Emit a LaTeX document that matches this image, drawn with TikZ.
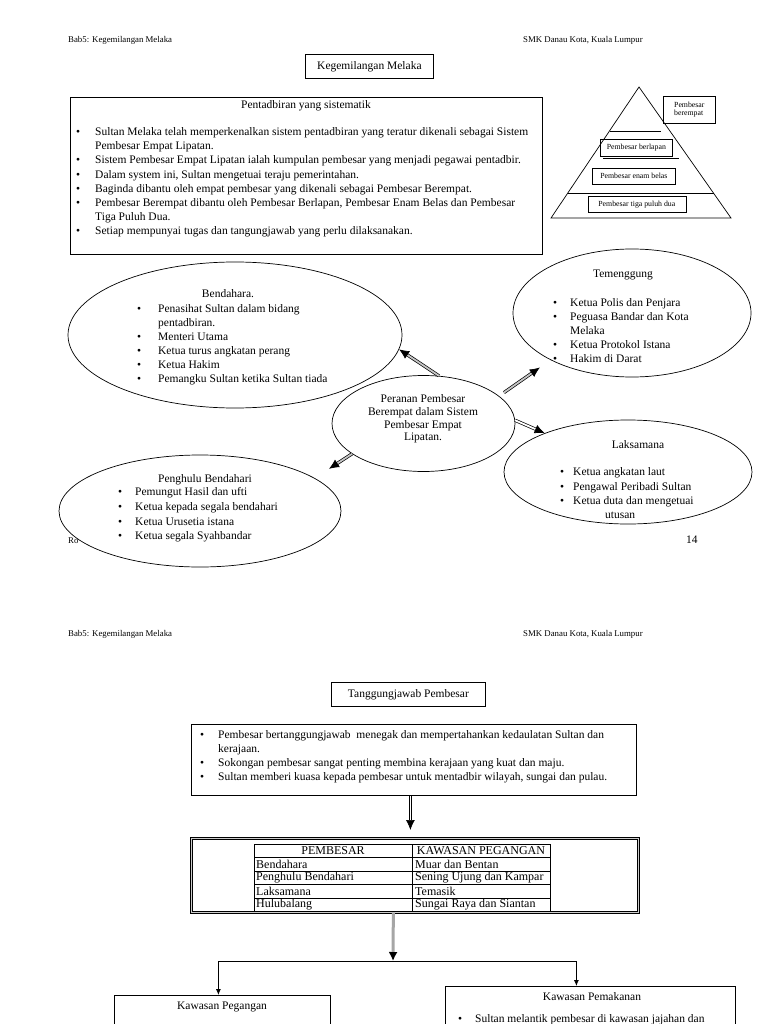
\documentclass[tikz,border=0pt]{standalone}
\usepackage{fontspec}
\setmainfont{Liberation Serif}
\usetikzlibrary{shapes.geometric,arrows.meta,calc}
\newcommand{\mybody}{\fontsize{11.5}{14}\selectfont}
\newcommand{\bul}[1][17pt]{\makebox[#1][l]{\textbullet}}
\newcommand{\indt}[1][17pt]{\hspace*{#1}}
\tikzset{
 hdr/.style={font=\fontsize{8.8}{10}\selectfont, inner sep=0pt, anchor=west},
 sbox/.style={draw, line width=0.8pt, inner sep=0pt, font=\mybody},
 oval/.style={ellipse, draw, line width=0.7pt, fill=white, inner sep=0pt},
 blist/.style={font=\mybody, inner sep=0pt, align=left, anchor=west},
 ctxt/.style={font=\mybody, inner sep=0pt, align=center},
 pyrbox/.style={draw, line width=0.7pt, inner sep=0pt, font=\fontsize{7.8}{8.6}\selectfont, align=left},
 dblarr/.style={double=#1, double distance=1.8pt, line width=0.7pt, -{Latex[length=10pt,width=9pt]}},
 dblarr/.default=white,
 gbar/.style={draw=gray!70, line width=3pt, -{Latex[length=9pt,width=9pt,color=black]}},
 tree/.style={line width=0.8pt, -{Latex[length=6pt,width=5pt]}},
 cell/.style={font=\fontsize{12}{13}\selectfont, inner sep=0pt},
}
\begin{document}
\begin{tikzpicture}[x=1pt,y=-1pt]
\useasboundingbox (0,0) rectangle (768,1024);
\clip (0,0) rectangle (768,1024);
\fill[white] (0,0) rectangle (768,1024);

% ---------- page 1 ----------
\node[hdr] (h1l) at (68,40) {Bab5: Kegemilangan Melaka};
\node[hdr] (h1r) at (523,40) {SMK Danau Kota, Kuala Lumpur};
\node[sbox, minimum width=128pt, minimum height=24pt, anchor=north west] (t1) at (305,54) {Kegemilangan Melaka};

\node[sbox, minimum width=472pt, minimum height=157pt, anchor=north west] (topbox) at (70,97) {};
\node[ctxt] (toptitle) at (306,106) {Pentadbiran yang sistematik};
\node[blist, font=\fontsize{11.5}{14.2}\selectfont] (toplist) at (76,182.5) {%
\bul[19pt]Sultan Melaka telah memperkenalkan sistem pentadbiran yang teratur dikenali sebagai Sistem\\
\indt[19pt]Pembesar Empat Lipatan.\\
\bul[19pt]Sistem Pembesar Empat Lipatan ialah kumpulan pembesar yang menjadi pegawai pentadbir.\\
\bul[19pt]Dalam system ini, Sultan mengetuai teraju pemerintahan.\\
\bul[19pt]Baginda dibantu oleh empat pembesar yang dikenali sebagai Pembesar Berempat.\\
\bul[19pt]Pembesar Berempat dibantu oleh Pembesar Berlapan, Pembesar Enam Belas dan Pembesar\\
\indt[19pt]Tiga Puluh Dua.\\
\bul[19pt]Setiap mempunyai tugas dan tangungjawab yang perlu dilaksanakan.};

% pyramid
\draw[line width=0.7pt] (639,87) -- (551,218) -- (731,218) -- cycle;
\draw[line width=1.6pt] (610,131.6) -- (661,131.6);
\draw[line width=0.7pt] (603,158) -- (679,158);
\draw[line width=0.7pt] (567.6,193) -- (714,193);
\node[pyrbox, minimum width=52pt, minimum height=27pt, anchor=north west] (pb1) at (663,95.7) {Pembesar\\berempat};
\node[pyrbox, minimum width=72pt, minimum height=17.3pt, anchor=north west] (pb2) at (600,138.7) {Pembesar berlapan};
\node[pyrbox, minimum width=83pt, minimum height=16.4pt, anchor=north west] (pb3) at (592,167.6) {Pembesar enam belas};
\node[pyrbox, minimum width=98pt, minimum height=16pt, anchor=north west] (pb4) at (587.5,196) {Pembesar tiga puluh dua};

% footer page 1 (partly hidden)
\node[hdr] (foot1) at (68,541) {Ro};
\node[hdr, font=\mybody] (pnum) at (686,540) {14};

% ellipses
\node[oval, minimum width=334pt, minimum height=146pt] (bend) at (235,335) {};
\node[ctxt] (bendT) at (228,294) {Bendahara.};
\node[blist] (bendL) at (137,344.5) {%
\bul[21pt]Penasihat Sultan dalam bidang\\
\indt[21pt]pentadbiran.\\
\bul[21pt]Menteri Utama\\
\bul[21pt]Ketua turus angkatan perang\\
\bul[21pt]Ketua Hakim\\
\bul[21pt]Pemangku Sultan ketika Sultan tiada};

\node[oval, minimum width=238pt, minimum height=128pt] (tem) at (632,313) {};
\node[ctxt] (temT) at (623,275) {Temenggung};
\node[blist] (temL) at (553,330.5) {%
\bul Ketua Polis dan Penjara\\
\bul Peguasa Bandar dan Kota\\
\indt Melaka\\
\bul Ketua Protokol Istana\\
\bul Hakim di Darat};

\node[oval, minimum width=183pt, minimum height=96pt] (cen) at (423.5,423.5) {};
\node[ctxt, font=\fontsize{11.5}{12.8}\selectfont] (cenT) at (423,419) {Peranan Pembesar\\Berempat dalam Sistem\\Pembesar Empat\\Lipatan.};

\node[oval, minimum width=248pt, minimum height=104pt] (laks) at (628,472) {};
\node[ctxt] (laksT) at (638,445) {Laksamana};
\node[blist, font=\fontsize{11.5}{14.3}\selectfont] (laksL) at (560,493.5) {%
\bul[13pt]Ketua angkatan laut\\
\bul[13pt]Pengawal Peribadi Sultan\\
\bul[13pt]Ketua duta dan mengetuai\\
\indt[45pt]utusan};

\node[oval, minimum width=282pt, minimum height=112pt] (peng) at (200,511) {};
\node[ctxt] (pengT) at (205,480) {Penghulu Bendahari};
\node[blist, font=\fontsize{11.5}{14.6}\selectfont] (pengL) at (118,515) {%
\bul Pemungut Hasil dan ufti\\
\bul Ketua kepada segala bendahari\\
\bul Ketua Urusetia istana\\
\bul Ketua segala Syahbandar};

% arrows from centre
\draw[dblarr=gray!45] (cen.72) -- (bend.-5);
\draw[dblarr=gray!45, shorten <=6pt, shorten >=13pt] (cen.20) -- (tem.210);
\draw[dblarr] (cen.2) -- (laks.155);
\draw[dblarr=gray!45, shorten >=17pt] (cen.203) -- (peng.16);

% ---------- page 2 ----------
\node[hdr] (h2l) at (68,634) {Bab5: Kegemilangan Melaka};
\node[hdr] (h2r) at (523,634) {SMK Danau Kota, Kuala Lumpur};
\node[sbox, minimum width=154pt, minimum height=24pt, anchor=north west] (t2) at (331,682) {Tanggungjawab Pembesar};

\node[sbox, minimum width=445pt, minimum height=71pt, anchor=north west] (box2) at (191,724) {};
\node[blist] (box2L) at (200,757) {%
\bul[18pt]Pembesar bertanggungjawab~ menegak dan mempertahankan kedaulatan Sultan dan\\
\indt[18pt]kerajaan.\\
\bul[18pt]Sokongan pembesar sangat penting membina kerajaan yang kuat dan maju.\\
\bul[18pt]Sultan memberi kuasa kepada pembesar untuk mentadbir wilayah, sungai dan pulau.};

\node[draw, double=gray!40, double distance=1.5pt, line width=0.7pt, minimum width=447pt, minimum height=74pt, anchor=north west, inner sep=0pt] (frame) at (191,838) {};
\draw[dblarr, shorten >=8pt] ([xshift=-3.5pt]box2.south) -- ([xshift=-3.5pt]box2.south |- frame.north);

% table
\draw[line width=0.7pt] (254,844) -- (550,844);
\draw[line width=0.7pt] (254,857.5) -- (550,857.5);
\draw[line width=0.7pt] (254,871) -- (550,871);
\draw[line width=0.7pt] (254,884.5) -- (550,884.5);
\draw[line width=0.7pt] (254,898) -- (550,898);
\draw[line width=0.7pt] (254,844) -- (254,911);
\draw[line width=0.7pt] (412,844) -- (412,911);
\draw[line width=0.7pt] (550,844) -- (550,911);
\node[cell] (c11) at (333,851) {PEMBESAR};
\node[cell] (c12) at (481,851) {KAWASAN PEGANGAN};
\node[cell, anchor=west] (c21) at (256,864.5) {Bendahara};
\node[cell, anchor=west] (c22) at (415,864.5) {Muar dan Bentan};
\node[cell, anchor=west] (c31) at (256,878) {Penghulu Bendahari};
\node[cell, anchor=west] (c32) at (415,878) {Sening Ujung dan Kampar};
\node[cell, anchor=west] (c41) at (256,891.5) {Laksamana};
\node[cell, anchor=west] (c42) at (415,891.5) {Temasik};
\node[cell, anchor=west] (c51) at (256,905) {Hulubalang};
\node[cell, anchor=west] (c52) at (415,905) {Sungai Raya dan Siantan};

% lower branches
\coordinate (split) at (393,961);
\draw[gbar] ([xshift=-21.5pt]frame.south) -- (split);
\node[sbox, minimum width=216pt, minimum height=60pt, anchor=north west] (kp) at (114,995) {};
\node[ctxt] (kpT) at (222,1007) {Kawasan Pegangan};
\node[sbox, minimum width=290pt, minimum height=60pt, anchor=north west] (kpm) at (445,986) {};
\node[ctxt] (kpmT) at (592,997) {Kawasan Pemakanan};
\node[blist] (kpmL) at (458,1020) {\bul Sultan melantik pembesar di kawasan jajahan dan};
\draw[tree] (split) -| ([xshift=-4pt]kp.north);
\draw[tree] (split) -| ([xshift=-14pt]kpm.north);
\end{tikzpicture}
\end{document}
